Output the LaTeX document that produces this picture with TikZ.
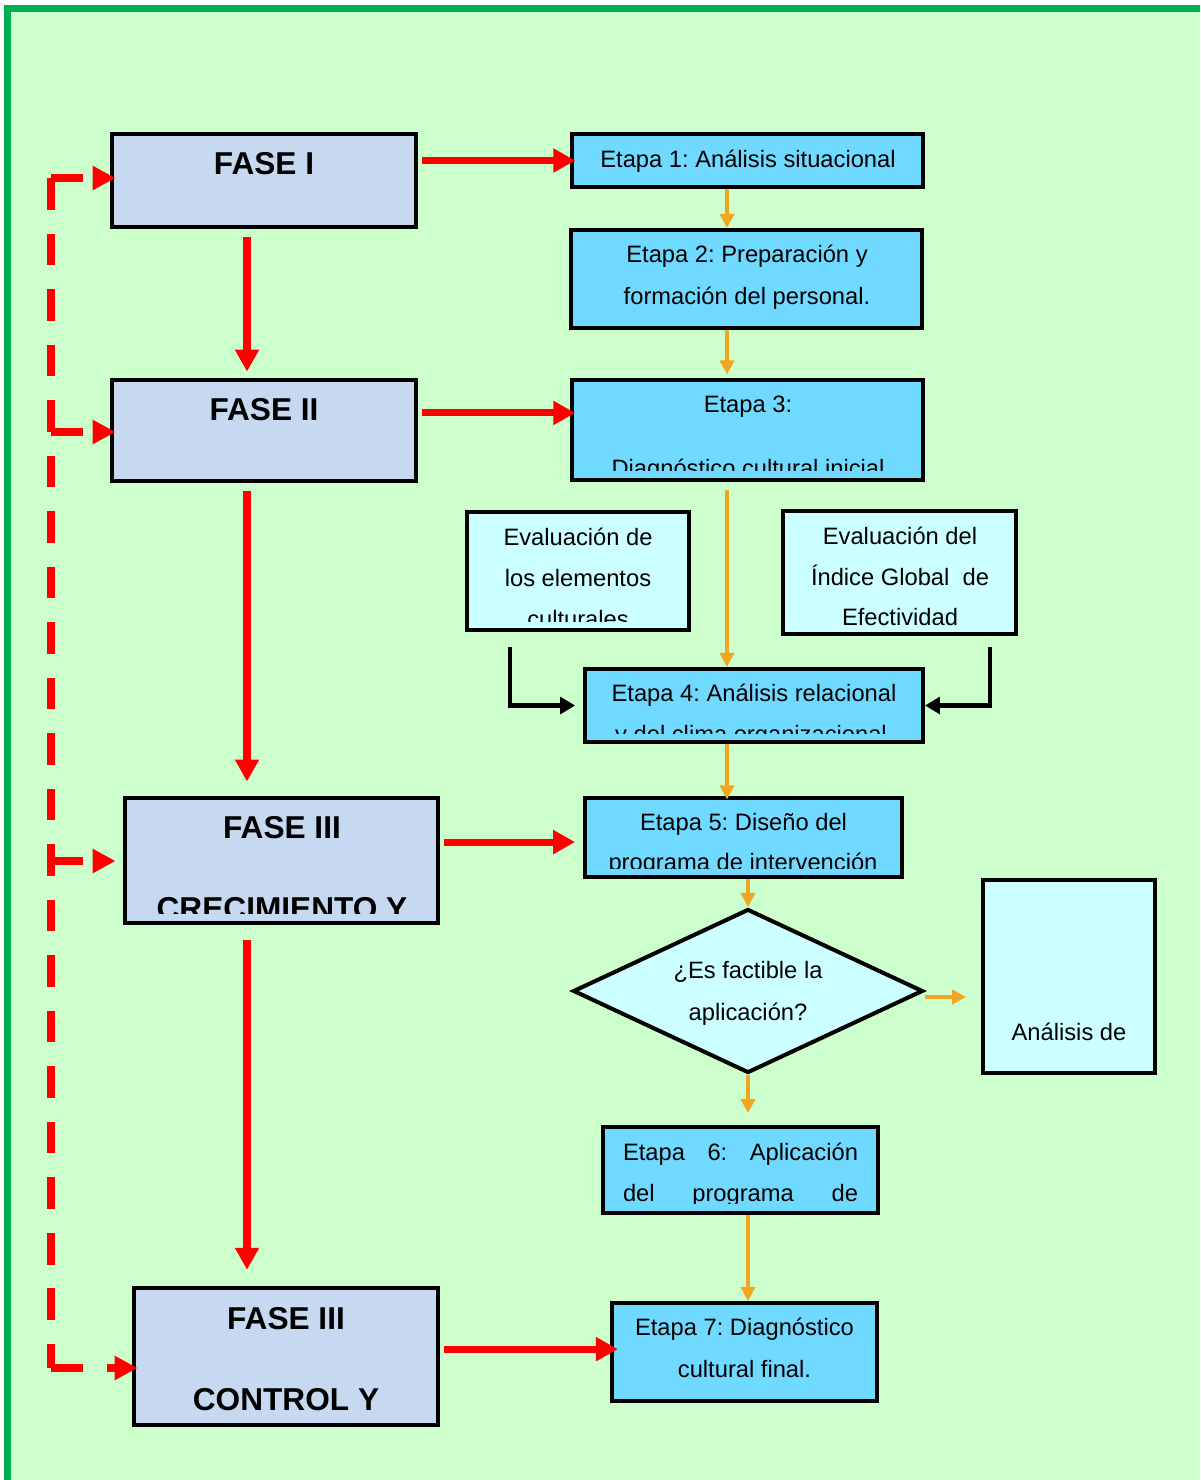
\documentclass[tikz,border=0pt]{standalone}
\usepackage{fontspec}
\setmainfont{Liberation Sans}
\frenchspacing
\usetikzlibrary{arrows.meta, shapes.geometric}
\definecolor{bggreen}{HTML}{CCFFCC}
\definecolor{framegreen}{HTML}{00B050}
\definecolor{faseblue}{HTML}{C6D9F1}
\definecolor{etapablue}{HTML}{70D9FF}
\definecolor{lightcyan}{HTML}{CCFFFF}
\definecolor{orangeline}{HTML}{F2A61F}

\begin{document}
\begin{tikzpicture}[x=0.02cm, y=-0.02cm]
  \tikzstyle{fase}=[rectangle, draw, line width=2.8pt, fill=faseblue, inner sep=0pt]
  \tikzstyle{etapa}=[rectangle, draw, line width=2.3pt, fill=etapablue, inner sep=0pt]
  \tikzstyle{lightbox}=[rectangle, draw, line width=2.3pt, fill=lightcyan, inner sep=0pt]
  \tikzstyle{decision}=[diamond, draw, line width=2.3pt, fill=lightcyan, inner sep=0pt]
  \tikzstyle{txt}=[font=\fontsize{13.5}{16}\selectfont, inner sep=0pt, anchor=mid]
  \tikzstyle{fasetxt}=[font=\bfseries\fontsize{18}{22}\selectfont, inner sep=0pt, anchor=mid]
  \tikzstyle{redarrow}=[draw=red, line width=4pt, -{Triangle[length=12.5pt, width=13pt]}]
  \tikzstyle{orarrow}=[draw=orangeline, line width=2.8pt, -{Triangle[length=8pt, width=8pt]}]
  \tikzstyle{blkarrow}=[draw=black, line width=2.3pt, -{Triangle[length=8.5pt, width=9.5pt]}]
  \tikzstyle{reddash}=[draw=red, line width=4.5pt, dash pattern=on 18pt off 13.6pt]
  \tikzstyle{dasharrow}=[-{Triangle[length=13pt, width=13pt]}]

  \useasboundingbox (0,0) rectangle (1200,1480);
  \clip (0,0) rectangle (1200,1480);
  \draw[draw=framegreen, line width=4pt, fill=bggreen] (7.5,8.5) rectangle (1260,1540);

  % fases
  \node[fase, minimum width=6.08cm, minimum height=1.86cm] (f1) at (264,180.5) {};
  \node[fase, minimum width=6.08cm, minimum height=2.02cm] (f2) at (264,430.5) {};
  \node[fase, minimum width=6.26cm, minimum height=2.5cm] (f3) at (281.5,860.5) {};
  \node[fase, minimum width=6.08cm, minimum height=2.74cm] (f4) at (286,1356.5) {};

  % etapas
  \node[etapa, minimum width=7.02cm, minimum height=1.06cm] (e1) at (747.5,160.5) {};
  \node[etapa, minimum width=7.02cm, minimum height=1.96cm] (e2) at (746.5,279) {};
  \node[etapa, minimum width=7.02cm, minimum height=2.0cm] (e3) at (747.5,430) {};
  \node[lightbox, minimum width=4.44cm, minimum height=2.36cm] (ev1) at (578,571) {};
  \node[lightbox, minimum width=4.66cm, minimum height=2.46cm] (ev2) at (899.5,572.5) {};
  \node[etapa, minimum width=6.76cm, minimum height=1.46cm] (e4) at (754,705.5) {};
  \node[etapa, minimum width=6.34cm, minimum height=1.58cm] (e5) at (743.5,837.5) {};
  \node[decision, minimum width=7.0cm, minimum height=3.28cm] (dec) at (748,991) {};
  \node[lightbox, minimum width=3.44cm, minimum height=3.86cm] (an) at (1069,976.5) {};
  \node[etapa, minimum width=5.5cm, minimum height=1.72cm] (e6) at (740.5,1170) {};
  \node[etapa, minimum width=5.3cm, minimum height=1.96cm] (e7) at (744.5,1352) {};

  % texts
  \node[fasetxt] (t1) at (264,170) {FASE I};
  \node[fasetxt] (t2) at (264,416) {FASE II};
  \node[fasetxt] (t3) at (282,834) {FASE III};
  \begin{scope}
    \clip ([yshift=6.8pt]f3.south west) rectangle (f3.north east);
    \node[fasetxt] (t3b) at (282,915) {CRECIMIENTO Y};
  \end{scope}
  \node[fasetxt] (t4) at (286,1325) {FASE III};
  \node[fasetxt] (t4b) at (286,1406) {CONTROL Y};

  \node[txt] (s1) at (748,163) {Etapa 1: Análisis situacional};
  \node[txt] (s2) at (747,258) {Etapa 2: Preparación y};
  \node[txt] (s2b) at (747,300) {formación del personal.};
  \node[txt] (s3) at (748,408) {Etapa 3:};
  \begin{scope}
    \clip ([yshift=6.8pt]e3.south west) rectangle (e3.north east);
    \node[txt] (s3b) at (748,472) {Diagnóstico cultural inicial};
  \end{scope}
  \begin{scope}
    \clip ([yshift=6pt]ev1.south west) rectangle (ev1.north east);
    \node[txt] (v1) at (578,541) {Evaluación de};
    \node[txt] (v1b) at (578,582) {los elementos};
    \node[txt] (v1c) at (578,623) {culturales};
  \end{scope}
  \begin{scope}
    \clip ([yshift=6pt]ev2.south west) rectangle (ev2.north east);
    \node[txt] (v2) at (900,540) {Evaluación del};
    \node[txt] (v2b) at (900,581) {Índice Global~ de};
    \node[txt] (v2c) at (900,621) {Efectividad};
  \end{scope}
  \begin{scope}
    \clip ([yshift=6.2pt]e4.south west) rectangle (e4.north east);
    \node[txt] (s4) at (754,697) {Etapa 4: Análisis relacional};
    \node[txt] (s4b) at (751,738) {y del clima organizacional};
  \end{scope}
  \begin{scope}
    \clip ([yshift=6.2pt]e5.south west) rectangle (e5.north east);
    \node[txt] (s5) at (743.5,826) {Etapa 5: Diseño del};
    \node[txt] (s5b) at (743,866) {programa de intervención};
  \end{scope}
  \node[txt] (q1) at (748,974) {¿Es factible la};
  \node[txt] (q2) at (748,1016) {aplicación?};
  \node[txt] (a1) at (1069,1036) {Análisis de};
  \begin{scope}
    \clip ([yshift=6.8pt]e6.south west) rectangle (e6.north east);
    \node[txt] (s6) at (740.5,1156) {\hbox to 4.7cm{Etapa\hfill 6:\hfill Aplicación}};
    \node[txt] (s6b) at (740.5,1197) {\hbox to 4.7cm{del\hfill programa\hfill de}};
  \end{scope}
  \node[txt] (s7) at (744.5,1331) {Etapa 7: Diagnóstico};
  \node[txt] (s7b) at (744.5,1373) {cultural final.};

  % red arrows
  \coordinate (lx) at (247,0);
  \draw[redarrow, shorten <=2pt, shorten >=-3pt] (f1.east |- e1.west) -- (e1.west);
  \draw[redarrow, shorten <=4.5pt, shorten >=3.4pt] (f1.south -| lx) -- (f2.north -| lx);
  \draw[redarrow, shorten <=2pt, shorten >=-3pt] ([yshift=10pt]f2.east) -- ([yshift=10pt]f2.east -| e3.west);
  \draw[redarrow, shorten <=4.5pt, shorten >=8pt] (f2.south -| lx) -- (f3.north -| lx);
  \draw[redarrow, shorten <=2pt, shorten >=4.5pt] ([yshift=10.5pt]f3.east) -- ([yshift=10.5pt]f3.east -| e5.west);
  \draw[redarrow, shorten <=8.5pt, shorten >=9pt] (f3.south -| lx) -- (f4.north -| lx);
  \draw[redarrow, shorten <=2pt, shorten >=-4.5pt] ([yshift=4.2pt]f4.east) -- ([yshift=4.2pt]f4.east -| e7.west);

  % orange arrows
  \coordinate (ox) at (727,0);
  \coordinate (mx) at (748,0);
  \draw[orarrow] (e1.south -| ox) -- (e2.north -| ox);
  \draw[orarrow, shorten >=2pt] (e2.south -| ox) -- (e3.north -| ox);
  \draw[orarrow, shorten <=4.5pt] (e3.south -| ox) -- (e4.north -| ox);
  \draw[orarrow, shorten >=-2pt] (e4.south -| ox) -- (e5.north -| ox);
  \draw[orarrow] (e5.south -| mx) -- (dec.north);
  \draw[orarrow, shorten >=6.8pt] (dec.south) -- (e6.north -| mx);
  \draw[orarrow, shorten >=8.5pt] ([yshift=-3.4pt]dec.east) -- ([yshift=-3.4pt]dec.east -| an.west);
  \draw[orarrow] (e6.south -| mx) -- (e7.north -| mx);

  % black arrows
  \coordinate (b1) at (510,647);
  \coordinate (b2) at (990,647);
  \draw[blkarrow, shorten >=4.5pt] (b1) |- (e4.west);
  \draw[blkarrow] (b2) |- (e4.east);

  % dashed return line
  \coordinate (d1) at (51,178);
  \coordinate (d2) at (51,432);
  \coordinate (d3) at (51,861);
  \coordinate (d4) at (51,1368);
  \draw[reddash] (d1) -- (d4);
  \draw[reddash, dasharrow, shorten >=-3.4pt] (d1) -- (f1.west |- d1);
  \draw[reddash, dasharrow, shorten >=-3.4pt] (d2) -- (f2.west |- d2);
  \draw[reddash, dasharrow, shorten >=4pt] (d3) -- (f3.west |- d3);
  \draw[reddash, dasharrow, shorten >=-3.4pt] (d4) -- (f4.west |- d4);
\end{tikzpicture}
\end{document}
